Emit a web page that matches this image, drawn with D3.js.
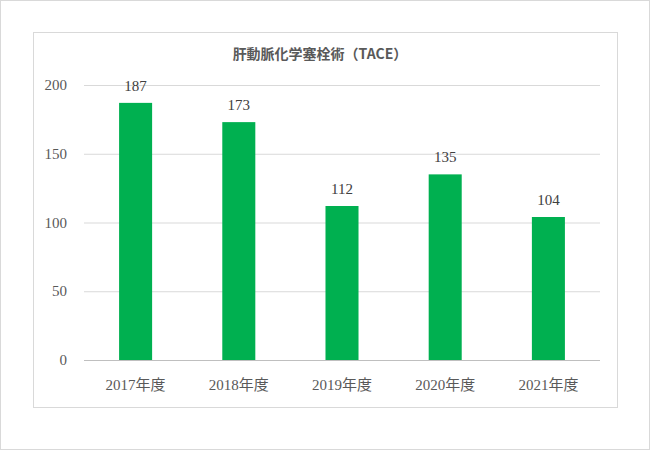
<!DOCTYPE html>
<html><head><meta charset="utf-8">
<script src="https://cdn.jsdelivr.net/npm/d3@7"></script>
<style>body{margin:0;background:#fff}</style>
</head><body>
<svg id="c" width="650" height="450"></svg>
<script>
const categories = ["2017年度","2018年度","2019年度","2020年度","2021年度"];
const values = [187,173,112,135,104];
const yTicks = [0,50,100,150,200];
const title = "肝動脈化学塞栓術（TACE）";

const svg = d3.select("#c");
const serif = "'Liberation Serif','Noto Sans CJK JP',serif";
svg.append("rect").attr("x",0.5).attr("y",0.5).attr("width",649).attr("height",449).attr("fill","#fff").attr("stroke","#d9d9d9");
svg.append("rect").attr("x",33.5).attr("y",32.5).attr("width",584).attr("height",375).attr("fill","#fff").attr("stroke","#d9d9d9");

const x = d3.scaleBand().domain(categories).range([84,600]).paddingInner(0.68).paddingOuter(0.34);
const y = d3.scaleLinear().domain([0,200]).range([360,85]);

svg.append("g").selectAll("line").data(yTicks).join("line")
  .attr("x1",84).attr("x2",600).attr("y1",d=>y(d)+0.5).attr("y2",d=>y(d)+0.5)
  .attr("stroke",d=>d===0?"#bfbfbf":"#d9d9d9");

svg.append("g").selectAll("text").data(yTicks).join("text")
  .attr("x",67).attr("y",d=>y(d)+5).attr("text-anchor","end")
  .attr("font-family",serif).attr("font-size",15).attr("fill","#595959").text(d=>d);

svg.append("g").selectAll("rect").data(values).join("rect")
  .attr("x",(d,i)=>x(categories[i])).attr("width",x.bandwidth())
  .attr("y",d=>y(d)).attr("height",d=>y(0)-y(d)).attr("fill","#00b050");

svg.append("g").selectAll("text").data(values).join("text")
  .attr("x",(d,i)=>x(categories[i])+x.bandwidth()/2).attr("y",d=>y(d)-12)
  .attr("text-anchor","middle").attr("font-family",serif).attr("font-size",15).attr("fill","#404040").text(d=>d);

svg.append("g").selectAll("text").data(categories).join("text")
  .attr("x",d=>x(d)+x.bandwidth()/2).attr("y",390)
  .attr("text-anchor","middle").attr("font-family",serif).attr("font-size",15).attr("fill","#595959").text(d=>d);

svg.append("text").attr("x",320).attr("y",59).attr("text-anchor","middle")
  .attr("font-family","'Noto Sans CJK JP',sans-serif").attr("font-weight","bold")
  .attr("font-size",14).attr("fill","#595959").text(title);
</script>
</body></html>
